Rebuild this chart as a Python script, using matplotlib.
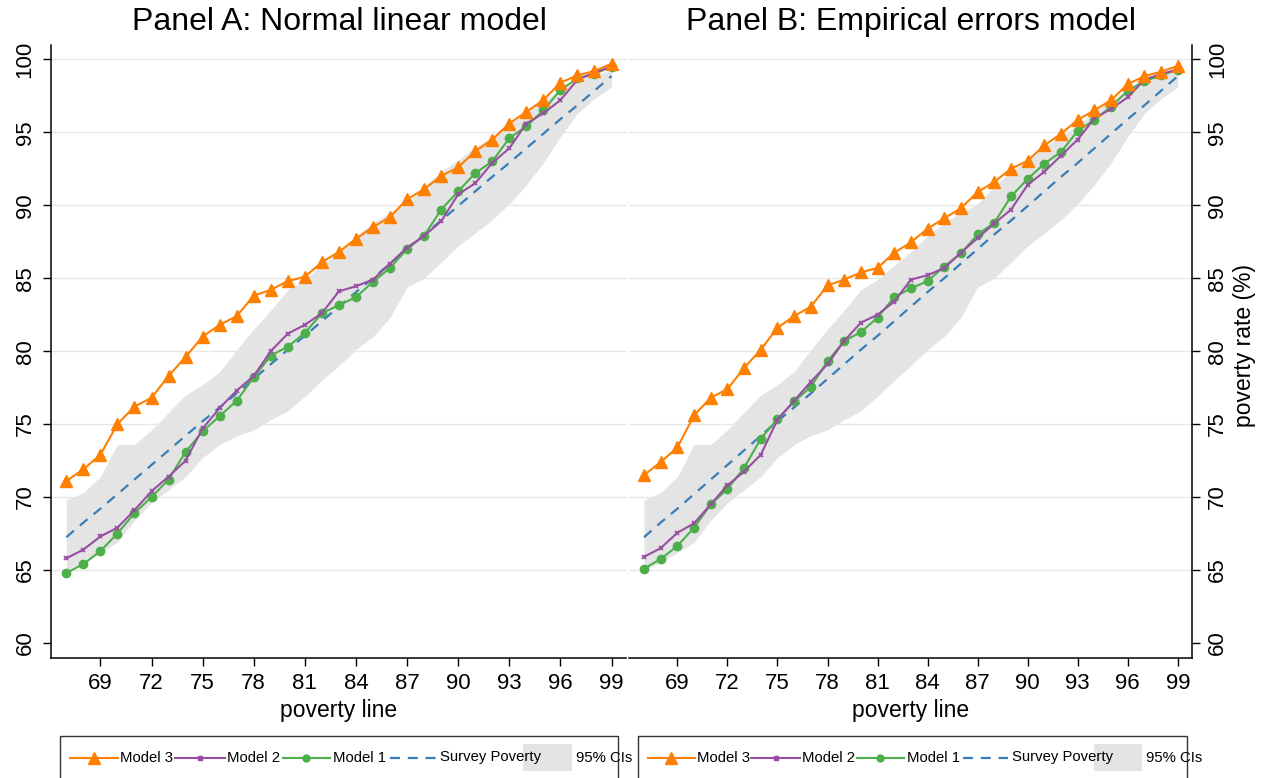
import matplotlib
matplotlib.use("Agg")
import matplotlib.pyplot as plt
from matplotlib.patches import Rectangle
from matplotlib.lines import Line2D

plt.rcParams['font.family'] = ['Liberation Sans', 'DejaVu Sans']

# ---------------- data ----------------
poverty_line = list(range(67, 100))
xticks = [69, 72, 75, 78, 81, 84, 87, 90, 93, 96, 99]
yticks = [60, 65, 70, 75, 80, 85, 90, 95, 100]

survey = [67.25, 68.25, 69.2, 70.2, 71.2, 72.2, 73.2, 74.2, 75.2, 76.15, 77.1,
          78.1, 79.1, 80.1, 81.05, 82.05, 83.05, 84.05, 85.0, 86.0, 87.0, 88.0,
          88.95, 89.95, 90.95, 91.95, 92.9, 93.9, 94.9, 95.9, 96.85, 97.85, 98.85]
ci_low = [65.0, 65.5, 66.2, 66.9, 68.4, 69.6, 70.5, 71.4, 72.7, 73.6, 74.2,
          74.6, 75.3, 75.9, 76.9, 78.0, 79.0, 80.1, 81.0, 82.3, 84.4, 85.0,
          86.1, 87.2, 88.1, 89.0, 90.1, 91.4, 92.9, 94.7, 96.3, 97.3, 98.1]
ci_high = [69.8, 70.3, 71.4, 73.6, 73.6, 74.6, 75.8, 77.0, 77.7, 78.6, 80.1,
           81.5, 82.8, 84.2, 84.9, 85.9, 86.8, 87.9, 88.8, 89.5, 90.1, 91.3,
           92.3, 93.1, 94.0, 94.7, 95.5, 96.4, 97.2, 97.9, 98.8, 99.0, 99.2]

# Panel A: Normal linear model
model3_a = [71.1, 71.9, 72.9, 75.0, 76.2, 76.8, 78.3, 79.6, 81.0, 81.8, 82.4,
            83.8, 84.2, 84.8, 85.1, 86.1, 86.8, 87.7, 88.5, 89.2, 90.4, 91.1,
            92.0, 92.6, 93.7, 94.5, 95.6, 96.4, 97.2, 98.4, 98.9, 99.2, 99.7]
model2_a = [65.8, 66.4, 67.3, 67.9, 69.1, 70.4, 71.4, 72.5, 74.7, 76.1, 77.3,
            78.3, 80.0, 81.2, 81.8, 82.6, 84.1, 84.45, 84.9, 86.0, 87.1, 87.9,
            88.9, 90.75, 91.5, 92.9, 93.9, 95.6, 96.3, 97.2, 98.6, 99.1, 99.5]
model1_a = [64.8, 65.4, 66.3, 67.5, 68.9, 70.0, 71.2, 73.1, 74.5, 75.55, 76.6,
            78.2, 79.7, 80.3, 81.25, 82.6, 83.15, 83.7, 84.75, 85.7, 87.0, 87.9,
            89.7, 90.95, 92.2, 93.0, 94.6, 95.4, 96.5, 97.9, 98.7, 99.0, 99.5]

# Panel B: Empirical errors model
model3_b = [71.5, 72.4, 73.4, 75.6, 76.8, 77.4, 78.85, 80.1, 81.6, 82.4, 83.05,
            84.5, 84.9, 85.4, 85.7, 86.75, 87.45, 88.4, 89.1, 89.8, 90.9, 91.6,
            92.5, 93.05, 94.1, 94.9, 95.85, 96.5, 97.2, 98.3, 98.85, 99.15, 99.55]
model2_b = [65.9, 66.5, 67.55, 68.2, 69.5, 70.8, 71.75, 72.9, 75.3, 76.6, 77.9,
            79.1, 80.7, 81.95, 82.5, 83.4, 84.9, 85.2, 85.7, 86.75, 87.75, 88.75,
            89.7, 91.4, 92.3, 93.4, 94.5, 95.95, 96.6, 97.4, 98.6, 99.0, 99.3]
model1_b = [65.1, 65.75, 66.65, 67.9, 69.5, 70.55, 72.0, 74.0, 75.35, 76.55, 77.55,
            79.3, 80.7, 81.3, 82.3, 83.7, 84.3, 84.8, 85.8, 86.7, 88.0, 88.8,
            90.6, 91.8, 92.85, 93.65, 95.1, 95.85, 96.75, 97.85, 98.5, 98.9, 99.3]

titles = ["Panel A: Normal linear model", "Panel B: Empirical errors model"]
xlabel = "poverty line"
ylabel = "poverty rate (%)"
legend_labels = ["Model 3", "Model 2", "Model 1", "Survey Poverty", "95% CIs"]

# ---------------- style ----------------
C_ORANGE = '#ff7f00'
C_PURPLE = '#984ea3'
C_GREEN = '#4daf4a'
C_BLUE = '#377eb8'
C_BAND = '#e4e4e4'
C_GRID = '#e6e6e6'

W, H = 1263, 778
fig = plt.figure(figsize=(W / 100, H / 100), dpi=100)


def frac(x0, x1, ytop, ybot):
    return [x0 / W, 1 - ybot / H, (x1 - x0) / W, (ybot - ytop) / H]


axA = fig.add_axes(frac(51, 626, 45, 658))
axB = fig.add_axes(frac(629, 1192, 45, 658))


def draw_panel(ax, m3, m2, m1, right):
    for v in yticks[1:]:
        ax.axhline(v, color=C_GRID, lw=1.0, zorder=0.5)
    ax.fill_between(poverty_line, ci_low, ci_high, color=C_BAND, lw=0, zorder=1)
    ax.plot(poverty_line, survey, color=C_BLUE, lw=1.6, dashes=(4.5, 3.5), zorder=2)
    ax.plot(poverty_line, m1, color=C_GREEN, lw=1.5, marker='o', ms=6, zorder=3)
    ax.plot(poverty_line, m2, color=C_PURPLE, lw=1.5, marker='x', ms=3.5, mew=1.3, zorder=4)
    ax.plot(poverty_line, m3, color=C_ORANGE, lw=1.5, marker='^', ms=9, zorder=5)
    ax.set_xlim(66.1, 99.85)
    ax.set_ylim(58.97, 100.98)
    ax.set_xticks(xticks)
    ax.set_yticks(yticks)
    ax.set_facecolor('none')
    ax.spines['top'].set_visible(False)
    if right:
        ax.spines['left'].set_visible(False)
        ax.yaxis.tick_right()
    else:
        ax.spines['right'].set_visible(False)
    for s in ax.spines.values():
        s.set_linewidth(1.1)
    ax.tick_params(axis='both', direction='out', length=6, width=1.0,
                   labelsize=16, pad=5, colors='black')
    for lab in ax.get_yticklabels():
        lab.set_rotation(90)
        lab.set_va('center')
        lab.set_ha('left' if right else 'right')


draw_panel(axA, model3_a, model2_a, model1_a, False)
draw_panel(axB, model3_b, model2_b, model1_b, True)

# ---------------- overlay for texts and legends ----------------
ov = fig.add_axes([0, 0, 1, 1], zorder=10)
ov.set_xlim(0, W)
ov.set_ylim(H, 0)
ov.axis('off')

ov.text(339, 22, titles[0], ha='center', va='center', fontsize=23)
ov.text(910.5, 22, titles[1], ha='center', va='center', fontsize=23)
ov.text(338.5, 710, xlabel, ha='center', va='center', fontsize=16.5)
ov.text(910.5, 710, xlabel, ha='center', va='center', fontsize=16.5)
ov.text(1245, 345, ylabel, ha='center', va='center', rotation=90, fontsize=16.5)


def draw_legend(x_off, s):
    X = lambda x: x_off + (x - 60) * s
    ov.add_patch(Rectangle((X(60), 736), X(618) - X(60), 80, fill=False,
                           ec='#333333', lw=1.0, clip_on=False))
    y = 757.5
    fs = 10.7
    # Model 3
    ov.add_line(Line2D([X(70), X(118)], [y, y], color=C_ORANGE, lw=1.5))
    ov.add_line(Line2D([X(94)], [y], color=C_ORANGE, marker='^', ms=8, lw=0))
    ov.text(X(120), y, legend_labels[0], ha='left', va='center', fontsize=fs)
    # Model 2
    ov.add_line(Line2D([X(175), X(225)], [y, y], color=C_PURPLE, lw=1.5))
    ov.add_line(Line2D([X(200)], [y], color=C_PURPLE, marker='s', ms=2.5, lw=0))
    ov.text(X(227), y, legend_labels[1], ha='left', va='center', fontsize=fs)
    # Model 1
    ov.add_line(Line2D([X(283), X(330)], [y, y], color=C_GREEN, lw=1.5))
    ov.add_line(Line2D([X(306)], [y], color=C_GREEN, marker='o', ms=5, lw=0))
    ov.text(X(333), y, legend_labels[2], ha='left', va='center', fontsize=fs)
    # Survey
    ov.add_line(Line2D([X(390), X(436)], [y, y], color=C_BLUE, lw=1.6, dashes=(4.5, 3.5)))
    ov.text(X(440), y, legend_labels[3], ha='left', va='center', fontsize=fs)
    # CI
    ov.add_patch(Rectangle((X(523), 744), X(572) - X(523), 27, color=C_BAND, lw=0))
    ov.text(X(576), y, legend_labels[4], ha='left', va='center', fontsize=fs)


draw_legend(60, 1.0)
draw_legend(638, 549 / 558)

fig.savefig("out.png", dpi=100)
